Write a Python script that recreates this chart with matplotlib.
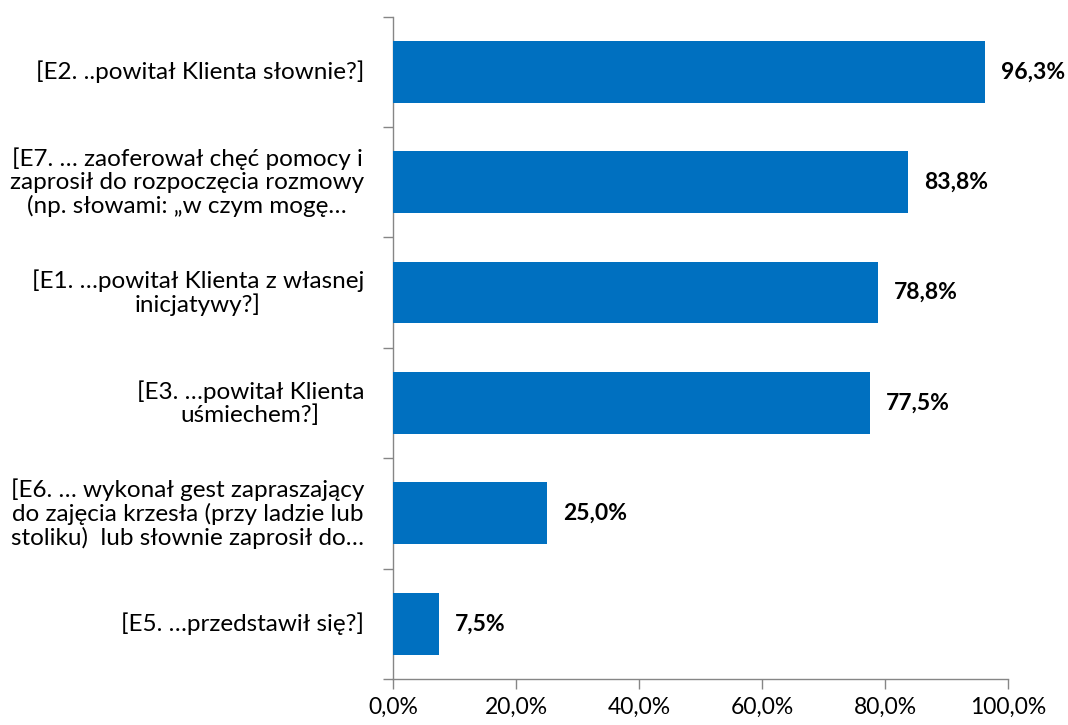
import matplotlib
matplotlib.use("Agg")
import matplotlib.pyplot as plt
import numpy as np

categories = [
    "[E2. ..powitał Klienta słownie?]",
    "[E7. … zaoferował chęć pomocy i\nzaprosił do rozpoczęcia rozmowy\n(np. słowami: „w czym mogę…",
    "[E1. …powitał Klienta z własnej\ninicjatywy?]",
    "[E3. …powitał Klienta\nuśmiechem?]",
    "[E6. … wykonał gest zapraszający\ndo zajęcia krzesła (przy ladzie lub\nstoliku)  lub słownie zaprosił do…",
    "[E5. …przedstawił się?]",
]
values = [96.3, 83.8, 78.8, 77.5, 25.0, 7.5]
xticks = [0, 20, 40, 60, 80, 100]

plt.rcParams['font.family'] = ['Lato', 'DejaVu Sans']

fig = plt.figure(figsize=(10.68, 7.25), dpi=100)
ax = fig.add_axes([0.368, 0.0634, 0.5758, 0.9138])

n = len(categories)
y = np.arange(n)
ax.barh(y, values, height=0.56, color='#0070C0', zorder=3)
ax.set_ylim(n - 0.5, -0.5)
ax.set_xlim(0, 100)

for yi, v in zip(y, values):
    ax.annotate(f"{v:.1f}%".replace('.', ','), xy=(v, yi), xytext=(16, 0),
                textcoords='offset pixels',
                va='center', ha='left', fontsize=16.5, fontweight='bold', color='black')

ax.set_yticks(y)
ax.set_yticklabels([])
for yi, lab in zip(y, categories):
    ax.annotate(lab, xy=(0, yi), xytext=(-29, 0), textcoords='offset pixels',
                ha='right', va='center', multialignment='center', fontsize=17.5,
                linespacing=1.1, color='black', annotation_clip=False)
ax.tick_params(axis='y', which='major', length=0)
ax.set_yticks(np.arange(n + 1) - 0.5, minor=True)
ax.tick_params(axis='y', which='minor', length=7, color='#868686', width=1)

ax.set_xticks(xticks)
ax.set_xticklabels([f"{t:.1f}%".replace('.', ',') for t in xticks], fontsize=16.5)
ax.tick_params(axis='x', length=7, color='#868686', width=1, pad=6)

for s in ['top', 'right']:
    ax.spines[s].set_visible(False)
for s in ['left', 'bottom']:
    ax.spines[s].set_color('#868686')
    ax.spines[s].set_linewidth(1)

fig.savefig('out.png', dpi=100)
